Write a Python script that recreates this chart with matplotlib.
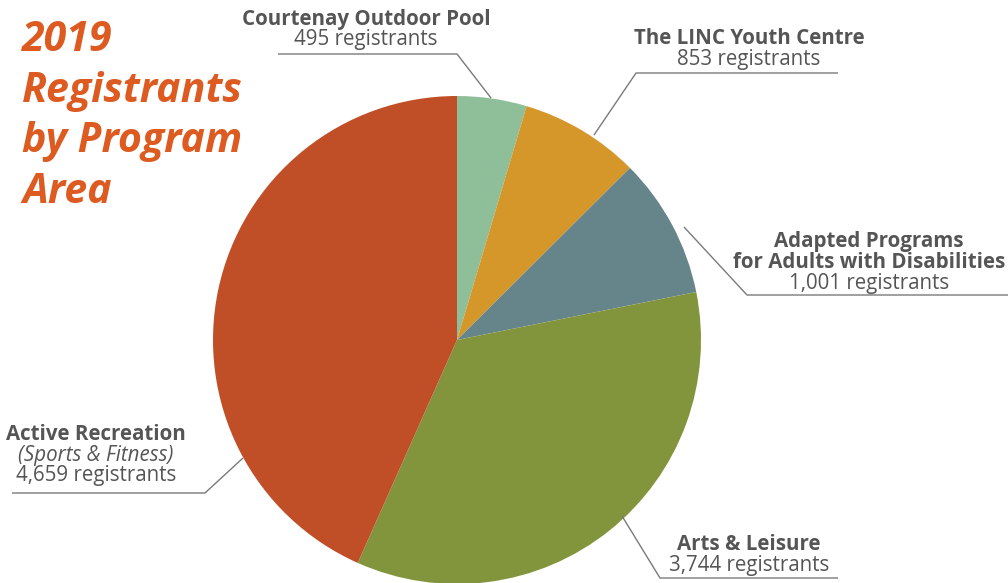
import matplotlib.pyplot as plt

# 2019 registrants by program area
programs = ["Courtenay Outdoor Pool", "The LINC Youth Centre",
            "Adapted Programs\nfor Adults with Disabilities",
            "Arts & Leisure", "Active Recreation"]
registrants = [495, 853, 1001, 3744, 4659]
colors = ["#8fbf98", "#d6972a", "#66858b", "#82953c", "#c04e26"]

W, H = 1008, 583
TXT = "#555555"
LINE = "#7a7a7a"


def py(y):
    # image pixel row -> data y
    return H - y


plt.rcParams["font.family"] = ["Open Sans", "DejaVu Sans"]
fig = plt.figure(figsize=(W / 100, H / 100), dpi=100)
ax = fig.add_axes([0, 0, 1, 1])
ax.set_xlim(0, W)
ax.set_ylim(0, H)
ax.set_aspect("equal")
ax.axis("off")

ax.pie(registrants, colors=colors, startangle=90, counterclock=False,
       center=(457, py(340)), radius=244,
       wedgeprops=dict(linewidth=0))
ax.set_xlim(0, W)
ax.set_ylim(0, H)

# title
ax.text(22, py(20), "2019\nRegistrants\nby Program\nArea", fontsize=29.6,
        fontweight="bold", fontstyle="italic", color="#dd5a20",
        ha="left", va="top", linespacing=1.31)

# labels: (lines, x center, first line y, styles)
labels = [
    ([programs[0], "495 registrants"], 366, 19, ["bold", "normal"]),
    ([programs[1], "853 registrants"], 749, 39, ["bold", "normal"]),
    (["Adapted Programs", "for Adults with Disabilities", "1,001 registrants"],
     869, 241, ["bold", "bold", "normal"]),
    ([programs[3], "3,744 registrants"], 749, 544, ["bold", "normal"]),
    ([programs[4], "(Sports & Fitness)", "4,659 registrants"], 96, 434,
     ["bold", "italic", "normal"]),
]
for lines, x, y0, styles in labels:
    for i, (s, st) in enumerate(zip(lines, styles)):
        ax.text(x, py(y0 + 21 * i), s, fontsize=14.8, color=TXT,
                ha="center", va="center",
                fontweight="bold" if st == "bold" else "normal",
                fontstyle="italic" if st == "italic" else "normal")

# leader lines
leaders = [
    [(278, 54), (457, 54), (491, 98)],
    [(838, 73), (636, 73), (594, 135)],
    [(684, 227), (747, 295), (1008, 295)],
    [(838, 578), (660, 578), (622, 516)],
    [(12, 493), (205, 493), (243, 458)],
]
for pts in leaders:
    ax.plot([p[0] for p in pts], [py(p[1]) for p in pts], color=LINE,
            linewidth=1.0, solid_capstyle="butt")

fig.savefig("out.png", dpi=100)
